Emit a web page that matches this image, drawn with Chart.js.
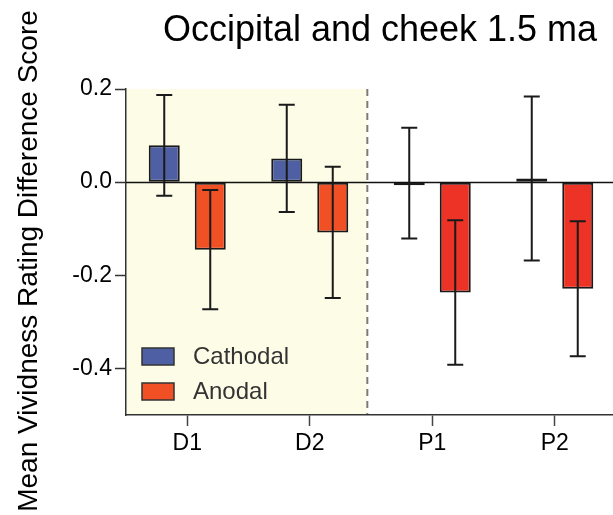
<!DOCTYPE html>
<html>
<head>
<meta charset="utf-8">
<script src="https://cdn.jsdelivr.net/npm/chart.js@4/dist/chart.umd.min.js"></script>
<style>
  html, body { margin: 0; padding: 0; background: #fff; overflow: hidden; }
  #wrap { width: 616px; height: 515px; }
</style>
</head>
<body>
<div id="wrap"><canvas id="chart" width="616" height="515"></canvas></div>
<script>
// Données
const categories = ['D1', 'D2', 'P1', 'P2'];
const cathodalValues = [0.079, 0.051, -0.002, 0.008];
const cathodalErrors = [0.108, 0.115, 0.119, 0.176];
const anodalValues = [-0.145, -0.108, -0.237, -0.229];
const anodalErrors = [0.128, 0.141, 0.155, 0.145];
const yTicks = [-0.4, -0.2, 0.0, 0.2];
const shadedUntil = 1.47; // limite de la zone D (en index de catégorie)

const titleText = 'Occipital and cheek 1.5 ma';
const yTitleText = 'Mean Vividness Rating Difference Score';
const font = 'Liberation Sans, Arial, sans-serif';

const cathodalColor = '#4e5fa4';
const anodalColors = ['#f05024', '#f05024', '#ec3325', '#ec3325'];

// Zone jaune + ligne pointillée + titres
const shadePlugin = {
    id: 'shade',
    beforeDraw(chart) {
        const { ctx, chartArea, scales } = chart;
        const xEnd = scales.x.getPixelForValue(shadedUntil);
        ctx.save();
        ctx.fillStyle = '#fdfde7';
        ctx.fillRect(chartArea.left, chartArea.top, xEnd - chartArea.left, chartArea.bottom - chartArea.top);
        ctx.strokeStyle = '#7a7a7a';
        ctx.lineWidth = 2;
        ctx.setLineDash([7, 5]);
        ctx.beginPath();
        ctx.moveTo(xEnd, chartArea.top);
        ctx.lineTo(xEnd, chartArea.bottom);
        ctx.stroke();
        ctx.restore();

        ctx.save();
        ctx.fillStyle = '#000';
        ctx.font = '36px ' + font;
        ctx.textAlign = 'center';
        ctx.textBaseline = 'alphabetic';
        ctx.fillText(titleText, 380, 41);
        ctx.translate(37, 261);
        ctx.rotate(-Math.PI / 2);
        ctx.font = '28px ' + font;
        ctx.fillText(yTitleText, 0, 0);
        ctx.restore();
    },
    beforeDatasetsDraw(chart) {
        // ligne du zéro
        const { ctx, chartArea, scales } = chart;
        const y0 = Math.round(scales.y.getPixelForValue(0)) + 0.5;
        ctx.save();
        ctx.strokeStyle = '#111';
        ctx.lineWidth = 1.5;
        ctx.beginPath();
        ctx.moveTo(chartArea.left, y0);
        ctx.lineTo(chartArea.right, y0);
        ctx.stroke();
        ctx.restore();
    }
};

// Barres d'erreur + légende
const errorBarPlugin = {
    id: 'errorBars',
    afterDatasetsDraw(chart) {
        const { ctx, scales } = chart;
        const errs = [cathodalErrors, anodalErrors];
        ctx.save();
        ctx.strokeStyle = '#1a1a1a';
        ctx.lineWidth = 2;
        chart.data.datasets.forEach((ds, di) => {
            const meta = chart.getDatasetMeta(di);
            meta.data.forEach((bar, i) => {
                const v = ds.data[i];
                const e = errs[di][i];
                const yTop = scales.y.getPixelForValue(v + e);
                const yBot = scales.y.getPixelForValue(v - e);
                const x = bar.x;
                ctx.beginPath();
                ctx.moveTo(x, yTop);
                ctx.lineTo(x, yBot);
                ctx.moveTo(x - 8, yTop);
                ctx.lineTo(x + 8, yTop);
                ctx.moveTo(x - 8, yBot);
                ctx.lineTo(x + 8, yBot);
                ctx.stroke();
            });
        });
        ctx.restore();

        // légende dans la zone du graphique
        const items = [
            { label: chart.data.datasets[0].label, color: cathodalColor, y: 348 },
            { label: chart.data.datasets[1].label, color: anodalColors[0], y: 383 }
        ];
        ctx.save();
        ctx.font = '24px ' + font;
        ctx.textBaseline = 'middle';
        items.forEach(item => {
            ctx.fillStyle = item.color;
            ctx.fillRect(142, item.y, 32, 17);
            ctx.strokeStyle = '#333';
            ctx.lineWidth = 1.5;
            ctx.strokeRect(142, item.y, 32, 17);
            ctx.fillStyle = '#333';
            ctx.fillText(item.label, 193, item.y + 9);
        });
        ctx.restore();
    }
};

new Chart(document.getElementById('chart'), {
    type: 'bar',
    data: {
        labels: categories,
        datasets: [
            {
                label: 'Cathodal',
                data: cathodalValues,
                backgroundColor: cathodalColor,
                borderColor: '#1a1a1a',
                borderWidth: 2,
                borderSkipped: false,
                minBarLength: 3
            },
            {
                label: 'Anodal',
                data: anodalValues,
                backgroundColor: anodalColors,
                borderColor: '#1a1a1a',
                borderWidth: 2,
                borderSkipped: false
            }
        ]
    },
    options: {
        responsive: false,
        animation: false,
        layout: { padding: { top: 89, left: 0, right: 0, bottom: 0 } },
        categoryPercentage: 0.751,
        barPercentage: 0.674,
        plugins: {
            legend: { display: false },
            title: { display: false },
            tooltip: { enabled: false }
        },
        scales: {
            x: {
                offset: true,
                grid: {
                    offset: false,
                    drawOnChartArea: false,
                    tickLength: 11,
                    tickWidth: 1.5,
                    tickColor: '#444'
                },
                border: { color: '#333', width: 1.5 },
                ticks: {
                    color: '#000',
                    padding: 4,
                    font: { family: font, size: 23 }
                },
                afterFit(scale) { scale.height = 100; }
            },
            y: {
                min: -0.5,
                max: 0.2,
                afterBuildTicks(scale) {
                    scale.ticks = yTicks.map(v => ({ value: v }));
                },
                grid: {
                    drawOnChartArea: false,
                    tickLength: 11,
                    tickWidth: 1.5,
                    tickColor: '#333'
                },
                border: { color: '#333', width: 1.5 },
                ticks: {
                    color: '#000',
                    padding: 3,
                    font: { family: font, size: 23 },
                    callback: v => v.toFixed(1)
                },
                afterFit(scale) { scale.width = 126; }
            }
        }
    },
    plugins: [shadePlugin, errorBarPlugin]
});
</script>
</body>
</html>
